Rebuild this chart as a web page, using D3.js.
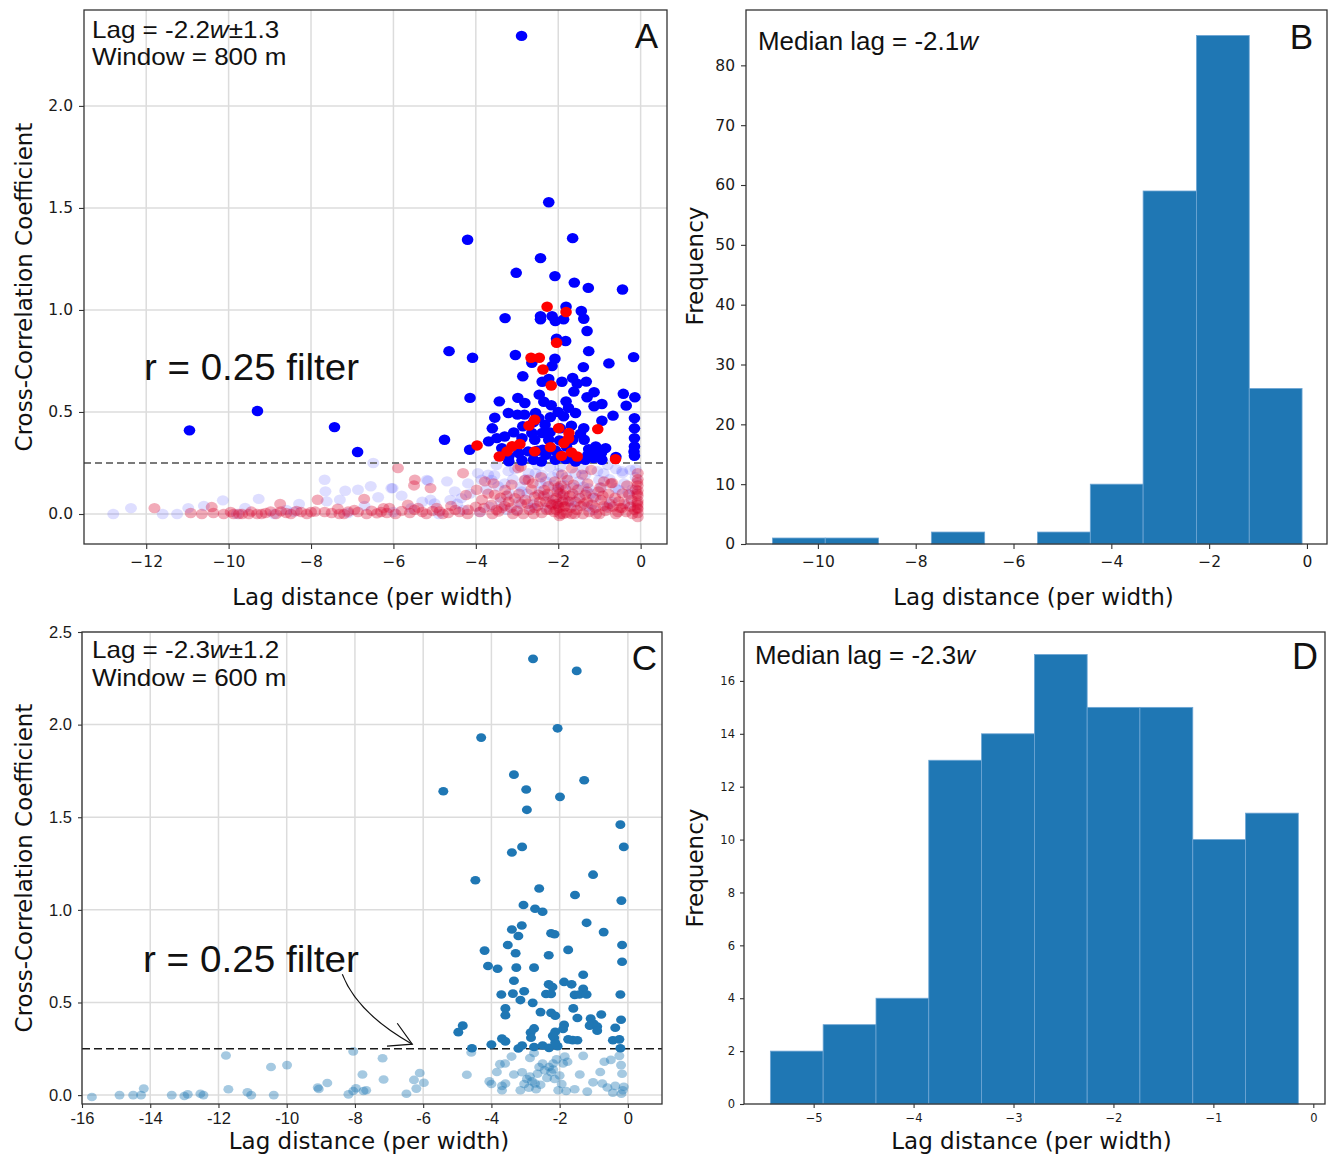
<!DOCTYPE html>
<html>
<head>
<meta charset="utf-8">
<script src="https://cdn.jsdelivr.net/npm/d3@7"></script>
<style>
  body { margin: 0; background: #fff; }
  svg { display: block; }
</style>
</head>
<body>
<svg id="fig" width="1328" height="1155"></svg>
<script>
// ---------------------------------------------------------------
// Panel A: 800 m window, lag vs cross-correlation coefficient
// ---------------------------------------------------------------
const a_blue = [
  [-2.89,2.343],[-10.95,0.41],[-9.3,0.505],[-7.43,0.426],[-6.87,0.304],
  [-2.23,1.528],[-4.2,1.344],[-1.65,1.352],[-2.43,1.254],[-3.02,1.182],[-2.08,1.166],[-1.61,1.134],[-1.27,1.108],[-0.44,1.10],
  [-1.81,1.016],[-2.43,0.97],[-2.43,0.954],[-2.15,0.97],[-2.07,0.946],[-1.87,0.954],[-1.44,0.995],[-1.38,0.957],[-3.29,0.96],[-1.3,0.897],[-2.04,0.859],[-1.82,0.848],
  [-4.65,0.798],[-4.08,0.766],[-3.04,0.779],[-2.64,0.741],[-2.08,0.761],[-2.15,0.725],[-1.26,0.798],[-0.77,0.738],[-0.17,0.769],[-1.39,0.72],
  [-2.86,0.675],[-2.39,0.648],[-2.23,0.662],[-1.91,0.648],[-1.65,0.667],[-1.54,0.639],[-1.32,0.649],[-1.62,0.6],[-2.46,0.585],[-1.13,0.597],[-0.42,0.589],[-0.14,0.572],
  [-4.14,0.569],[-3.43,0.552],[-2.98,0.569],[-2.81,0.544],[-1.81,0.552],[-1.3,0.572],[-1.13,0.528],[-0.94,0.539],[-0.35,0.531],[-2.17,0.533],
  [-3.21,0.495],[-2.99,0.487],[-2.82,0.487],[-2.55,0.495],[-2.47,0.47],[-2.19,0.475],[-1.87,0.479],[-1.58,0.495],[-0.67,0.482],[-3.54,0.472],[-0.94,0.457],
  [-2.86,0.43],[-2.32,0.438],[-1.68,0.433],[-1.38,0.421],[-3.08,0.4],[-2.64,0.397],[-2.39,0.397],[-1.46,0.393],
  [-4.76,0.364],[-3.49,0.372],[-3.69,0.356],[-2.88,0.372],[-2.57,0.364],[-2.23,0.364],[-1.97,0.361],[-1.65,0.364],[-1.37,0.364],[-0.15,0.372],
  [-4.15,0.315],[-3.37,0.323],[-3.2,0.282],[-2.96,0.298],[-2.73,0.307],[-2.38,0.315],[-2.07,0.311],[-1.8,0.331],[-1.26,0.318],[-1.09,0.331],[-0.85,0.323],[-0.15,0.331],[-0.15,0.285],
  [-3.2,0.258],[-2.88,0.262],[-2.6,0.266],[-2.41,0.257],[-2.07,0.266],[-1.82,0.269],[-1.58,0.257],[-1.34,0.266],[-1.14,0.274],[-0.94,0.266],[-1.28,0.29],[-1.05,0.295],
  [-2.3,0.29],[-2.0,0.295],[-1.7,0.28],[-2.5,0.31],[-2.2,0.4],[-1.95,0.42],[-2.6,0.45],[-2.0,0.5],[-1.75,0.52],[-2.35,0.55],[-3.6,0.42],[-3.3,0.38],
  [-0.95,0.3],[-0.6,0.28],[-0.15,0.42],[-0.15,0.47],[-0.16,0.305]
];
const a_red = [
  [-2.27,1.016],[-1.81,0.99],[-2.04,0.839],[-2.66,0.766],[-2.46,0.766],[-2.37,0.708],[-2.17,0.63],[-2.57,0.462],[-2.71,0.433],
  [-1.99,0.421],[-1.04,0.416],[-1.74,0.397],[-1.86,0.348],[-1.75,0.37],[-3.97,0.336],[-2.93,0.343],[-3.12,0.332],[-3.24,0.307],
  [-3.43,0.282],[-2.57,0.307],[-2.19,0.328],[-1.92,0.285],[-1.68,0.302],[-1.54,0.282],[-0.61,0.269]
];
const a_blueWeak = [
  [-12.8,0.0],[-12.37,0.029],[-11.25,0.0],[-10.98,0.029],[-10.14,0.067],[-9.27,0.074],[-8.29,0.049],[-7.67,0.168],[-7.65,0.111],[-7.62,0.062],
  [-7.17,0.114],[-6.86,0.119],[-6.55,0.136],[-6.37,0.082],[-6.49,0.25],[-6.05,0.126],[-6.02,0.127],[-5.19,0.167],[-5.16,0.163],[-5.1,0.07],
  [-5.0,0.052],[-4.62,0.069],[-4.51,0.111],[-4.35,0.078],[-4.19,0.15],[-4.14,0.10],[-3.86,0.168],[-3.7,0.193],[-3.62,0.167],[-3.46,0.136],
  [-3.21,0.21],[-3.19,0.10],[-2.91,0.134],[-2.89,0.111],[-2.72,0.2],[-2.43,0.15],[-2.4,0.193],[-2.24,0.085],[-2.15,0.183],[-1.86,0.142],
  [-1.58,0.2],[-1.39,0.134],[-1.29,0.036],[-1.26,0.127],[-1.01,0.167],[-0.82,0.036],[-0.61,0.127],[-0.53,0.118],[-0.45,0.21],[-0.44,0.2],
  [-0.25,0.216],[-0.12,0.22],[-0.12,0.18],[-3.67,0.036],[-5.57,0.028],[-8.41,0.011],[-9.8,0.0],[-8.9,0.0],[-7.1,0.005],[-6.0,0.01],
  [-4.9,0.0],[-4.3,0.02],[-3.9,0.01],[-3.4,0.06],[-3.0,0.02],[-2.6,0.05],[-2.3,0.03],[-2.0,0.12],[-1.7,0.06],[-1.5,0.16],
  [-1.1,0.08],[-0.9,0.2],[-0.7,0.06],[-0.3,0.1],[-1.95,0.23],[-2.5,0.24],[-3.5,0.24],[-0.8,0.24],[-1.4,0.22],[-2.8,0.17],[-3.1,0.17],[-2.0,0.2],
  [-3.95,0.2],[-3.75,0.12],[-3.55,0.19],[-3.3,0.15],[-3.05,0.22],[-2.95,0.06],[-2.75,0.1],[-2.55,0.2],[-2.45,0.11],[-2.3,0.16],
  [-2.2,0.23],[-2.1,0.14],[-1.9,0.09],[-1.8,0.18],[-1.65,0.13],[-1.5,0.09],[-1.35,0.19],[-1.2,0.1],[-1.05,0.21],[-0.95,0.13],
  [-0.75,0.17],[-0.6,0.22],[-0.4,0.15],[-0.3,0.05],[-0.2,0.12],[-2.65,0.03],[-2.05,0.05],[-1.6,0.04],[-1.15,0.02],[-3.25,0.02],
  [-4.45,0.05],[-4.7,0.16],[-5.3,0.06],[-5.8,0.09],[-6.7,0.04],[-7.3,0.07],[-8.6,0.02],[-9.6,0.03],[-10.6,0.04],[-11.6,0.0]
];
const a_redWeak = [
  [-11.8,0.029],[-10.92,0.005],[-10.65,0.0],[-10.41,0.034],[-10.37,0.005],[-10.12,0.0],[-9.88,0.0],[-9.67,0.0],[-9.51,0.0],[-9.31,0.0],
  [-9.1,0.005],[-8.98,0.013],[-8.75,0.049],[-8.73,0.013],[-8.49,0.0],[-8.24,0.01],[-8.0,0.01],[-7.84,0.07],[-7.67,0.01],[-7.5,0.005],
  [-7.35,0.026],[-7.31,0.0],[-7.1,0.012],[-6.86,0.01],[-6.71,0.074],[-6.53,0.016],[-6.4,0.003],[-6.24,0.029],[-6.16,0.005],[-6.1,0.03],
  [-5.89,0.225],[-5.65,0.046],[-5.5,0.14],[-5.48,0.168],[-5.49,0.021],[-5.3,0.01],[-5.1,0.127],[-5.05,0.015],[-4.88,0.013],[-4.67,0.005],
  [-4.5,0.02],[-4.31,0.2],[-4.24,0.093],[-4.19,0.021],[-4.0,0.036],[-3.98,0.119],[-3.9,0.01],[-3.78,0.16],[-3.62,0.046],[-3.57,0.15],
  [-3.54,0.095],[-3.45,0.012],[-3.37,0.029],[-3.29,0.118],[-3.2,0.06],[-3.13,0.144],[-3.05,0.077],[-3.0,0.015],[-2.97,0.225],[-2.91,0.232],
  [-2.81,0.167],[-2.8,0.07],[-2.72,0.168],[-2.7,0.02],[-2.57,0.085],[-2.56,0.029],[-2.48,0.095],[-2.4,0.005],[-2.34,0.118],[-2.24,0.136],
  [-2.19,0.052],[-2.15,0.046],[-2.1,0.01],[-1.96,0.101],[-1.91,0.193],[-1.87,0.095],[-1.86,0.036],[-1.83,0.038],[-1.8,0.005],[-1.77,0.167],
  [-1.75,0.062],[-1.67,0.224],[-1.63,0.144],[-1.55,0.02],[-1.48,0.077],[-1.42,0.193],[-1.34,0.095],[-1.29,0.15],[-1.25,0.01],[-1.2,0.216],
  [-1.18,0.046],[-1.02,0.111],[-0.96,0.069],[-0.89,0.16],[-0.85,0.015],[-0.72,0.15],[-0.69,0.152],[-0.67,0.036],[-0.53,0.062],[-0.45,0.029],
  [-0.44,0.101],[-0.35,0.01],[-0.28,0.095],[-0.25,0.036],
  [-0.07,0.2],[-0.07,0.17],[-0.07,0.14],[-0.07,0.115],[-0.07,0.09],[-0.07,0.065],[-0.07,0.045],[-0.07,0.025],[-0.07,0.005],[-0.07,-0.015],
  [-0.08,0.155],[-0.08,0.1],[-0.08,0.055],[-0.08,0.03],
  [-4.2,0.0],[-3.8,0.03],[-3.6,0.0],[-3.3,0.04],[-3.1,0.0],[-2.9,0.05],[-2.6,0.0],[-2.5,0.04],[-2.3,0.06],[-2.2,0.02],
  [-2.0,0.04],[-1.95,0.0],[-1.9,0.06],[-1.7,0.03],[-1.6,0.0],[-1.45,0.04],[-1.1,0.03],[-1.0,0.0],[-0.75,0.05],[-0.6,0.0],
  [-0.5,0.03],[-0.2,0.0],[-2.05,0.08],[-2.35,0.09],[-1.65,0.1],[-2.65,0.12],[-3.4,0.08],[-1.3,0.06],[-0.9,0.04],[-2.0,0.13],
  [-1.85,0.07],[-2.05,0.02],[-1.97,-0.01],[-2.03,0.05],
  [-9.95,0.01],[-9.75,0.0],[-9.45,0.012],[-9.2,0.0],[-8.85,0.0],[-8.6,0.005],[-8.35,0.015],[-8.1,0.0],[-7.9,0.012],[-7.2,0.0],
  [-6.95,0.02],[-6.65,0.0],[-6.3,0.01],[-5.95,0.0],[-5.8,0.015],[-5.6,0.005],[-5.4,0.03],[-5.2,0.0],[-4.95,0.03],[-4.8,0.0],
  [-4.6,0.04],[-4.4,0.01],
  [-3.85,0.07],[-3.7,0.1],[-3.5,0.02],[-3.25,0.09],[-3.15,0.03],[-2.95,0.1],[-2.85,0.0],[-2.75,0.05],[-2.62,0.15],[-2.45,0.06],
  [-2.42,0.18],[-2.28,0.02],[-2.25,0.1],[-2.12,0.07],[-2.08,0.16],[-2.02,0.11],[-1.98,0.03],[-1.93,0.14],[-1.88,0.0],[-1.82,0.12],
  [-1.72,0.09],[-1.68,0.0],[-1.58,0.06],[-1.52,0.12],[-1.4,0.0],[-1.38,0.05],[-1.3,0.11],[-1.15,0.08],[-1.08,0.0],[-0.98,0.13],
  [-0.92,0.09],[-0.8,0.03],[-0.78,0.1],[-0.62,0.08],[-0.55,0.01],[-0.4,0.05],[-0.33,0.14],[-0.22,0.07],[-0.15,0.02],[-0.12,0.12]
];

// ---------------------------------------------------------------
// Panel C: 600 m window
// ---------------------------------------------------------------
const c_strong = [
  [-2.78,2.355],[-1.5,2.29],[-2.06,1.98],[-4.3,1.93],[-3.34,1.73],[-1.28,1.70],[-5.41,1.64],[-2.98,1.65],[-1.99,1.61],[-2.96,1.54],
  [-0.22,1.46],[-0.12,1.34],[-3.1,1.34],[-3.4,1.31],[-1.02,1.19],[-4.47,1.16],[-2.6,1.115],[-1.55,1.08],[-0.19,1.05],[-3.06,1.026],
  [-2.72,1.006],[-2.5,0.99],[-1.21,0.93],[-3.11,0.916],[-3.4,0.894],[-0.71,0.88],[-2.25,0.874],[-2.15,0.868],[-3.21,0.859],[-0.17,0.81],
  [-3.52,0.81],[-4.2,0.78],[-1.75,0.784],[-3.29,0.766],[-2.32,0.755],[-0.17,0.72],[-4.1,0.697],[-3.82,0.682],[-3.27,0.688],[-2.75,0.688],
  [-1.31,0.65],[-3.34,0.617],[-1.87,0.611],[-1.65,0.598],[-2.32,0.598],[-2.21,0.584],[-1.31,0.574],[-3.04,0.561],[-3.71,0.543],[-3.37,0.548],
  [-2.4,0.546],[-2.25,0.546],[-1.56,0.541],[-1.42,0.543],[-1.21,0.543],[-0.22,0.543],[-3.15,0.513],[-2.79,0.498],[-3.59,0.468],[-1.6,0.468],
  [-2.56,0.448],[-2.25,0.444],[-3.59,0.431],[-2.13,0.428],[-0.78,0.435],[-1.48,0.416],[-1.09,0.413],[-0.2,0.407],[-1.0,0.385],[-4.84,0.375],
  [-1.87,0.379],[-1.12,0.375],[-0.9,0.37],[-2.75,0.36],[-0.37,0.364],[-1.9,0.357],[-4.97,0.34],[-2.85,0.338],[-2.13,0.342],[-0.9,0.348],
  [-2.84,0.31],[-3.69,0.305],[-3.59,0.29],[-2.16,0.31],[-1.75,0.301],[-1.62,0.297],[-1.48,0.296],[-0.44,0.296],[-0.25,0.301],[-3.1,0.268],
  [-4.0,0.273],[-4.57,0.253],[-3.21,0.252],[-2.75,0.26],[-2.5,0.268],[-2.31,0.255],[-2.06,0.264],[-0.22,0.253],[-2.13,0.283],[-2.2,0.32]
];
const c_weak = [
  [-15.71,-0.01],[-14.9,0.0],[-14.5,0.0],[-14.27,0.0],[-14.19,0.035],[-13.37,0.0],[-13.0,-0.005],[-12.9,0.004],[-12.53,0.007],[-12.44,0.0],
  [-11.78,0.214],[-11.71,0.032],[-11.15,0.015],[-11.04,0.0],[-10.46,0.152],[-10.38,0.0],[-9.99,0.162],[-9.09,0.041],[-9.06,0.033],[-8.81,0.065],
  [-8.19,0.004],[-8.05,0.236],[-8.05,0.022],[-7.97,0.037],[-7.78,0.111],[-7.75,0.022],[-7.67,0.026],[-7.19,0.199],[-7.16,0.084],[-6.49,0.007],
  [-6.27,0.082],[-6.2,0.035],[-6.1,0.119],[-5.98,0.067],[-4.72,0.11],[-4.59,0.23],[-4.06,0.074],[-4.0,0.06],[-3.84,0.125],[-3.75,0.167],
  [-3.69,0.05],[-3.69,0.026],[-3.6,0.171],[-3.59,0.063],[-3.41,0.208],[-3.34,0.111],[-3.15,0.026],[-3.1,0.123],[-3.04,0.06],[-2.96,0.087],
  [-2.9,0.04],[-2.87,0.1],[-2.81,0.074],[-2.75,0.227],[-2.72,0.063],[-2.69,0.032],[-2.65,0.115],[-2.6,0.152],[-2.56,0.056],[-2.5,0.171],
  [-2.44,0.134],[-2.37,0.093],[-2.31,0.152],[-2.25,0.123],[-2.19,0.171],[-2.15,0.087],[-2.09,0.193],[-2.04,0.026],[-2.0,0.106],[-1.94,0.06],
  [-1.9,0.171],[-1.85,0.208],[-1.81,0.022],[-1.77,0.18],[-1.56,0.032],[-1.41,0.111],[-1.31,0.212],[-1.19,0.019],[-1.02,0.069],[-0.81,0.125],
  [-0.75,0.063],[-0.69,0.18],[-0.6,0.041],[-0.5,0.19],[-0.44,0.013],[-0.37,0.05],[-0.25,0.212],[-0.2,0.162],[-0.17,0.115],[-0.15,0.026],
  [-0.12,0.045],[-0.19,0.007],[-2.87,0.2],[-2.19,0.138]
];

// ---------------------------------------------------------------
// Histograms of lag distance (panels B and D)
// ---------------------------------------------------------------
const b_binEdges = [-10.93,-9.85,-8.76,-7.68,-6.59,-5.51,-4.43,-3.35,-2.26,-1.18,-0.10];
const b_counts   = [1,1,0,2,0,2,10,59,85,26];
const d_binEdges = [-5.433,-4.905,-4.376,-3.848,-3.320,-2.791,-2.263,-1.735,-1.206,-0.678,-0.150];
const d_counts   = [2,3,4,13,14,17,15,15,10,11];

// tick values
const a_xTicks = [-12,-10,-8,-6,-4,-2,0];
const a_yTicks = [0,0.5,1.0,1.5,2.0];
const b_xTicks = [-10,-8,-6,-4,-2,0];
const b_yTicks = [0,10,20,30,40,50,60,70,80];
const c_xTicks = [-16,-14,-12,-10,-8,-6,-4,-2,0];
const c_yTicks = [0,0.5,1.0,1.5,2.0,2.5];
const d_xTicks = [-5,-4,-3,-2,-1,0];
const d_yTicks = [0,2,4,6,8,10,12,14,16];

const filterLevel = 0.25;

// ---------------------------------------------------------------
// layout
// ---------------------------------------------------------------
const layout = {
  A: {x0: 84,  x1: 667,  y0: 10,  y1: 544,  xd: [-13.51, 0.64],  yd: [-0.147, 2.47]},
  B: {x0: 746, x1: 1327, y0: 10,  y1: 544,  xd: [-11.47, 0.41],  yd: [0, 89.25]},
  C: {x0: 82,  x1: 662,  y0: 632, y1: 1104, xd: [-16, 1],        yd: [-0.048, 2.5]},
  D: {x0: 744, x1: 1325, y0: 632, y1: 1104, xd: [-5.697, 0.117], yd: [0, 17.85]}
};

const LABEL_FONT = "'DejaVu Sans', sans-serif";
const NOTE_FONT = "'Liberation Sans', Arial, sans-serif";
const BAR_BLUE = "#1f77b4";

const svg = d3.select("#fig");
const defs = svg.append("defs");

function scales(p) {
  return {
    x: d3.scaleLinear().domain(p.xd).range([p.x0, p.x1]),
    y: d3.scaleLinear().domain(p.yd).range([p.y1, p.y0])
  };
}

function clipFor(id, p) {
  defs.append("clipPath").attr("id", id)
    .append("rect").attr("x", p.x0).attr("y", p.y0)
    .attr("width", p.x1 - p.x0).attr("height", p.y1 - p.y0);
  return `url(#${id})`;
}

function grid(g, p, s, xt, yt) {
  const gg = g.append("g").attr("stroke", "#dcdcdc").attr("stroke-width", 1.5);
  gg.selectAll("line.v").data(xt).join("line").attr("class", "v")
    .attr("x1", d => s.x(d)).attr("x2", d => s.x(d)).attr("y1", p.y0).attr("y2", p.y1);
  gg.selectAll("line.h").data(yt).join("line").attr("class", "h")
    .attr("y1", d => s.y(d)).attr("y2", d => s.y(d)).attr("x1", p.x0).attr("x2", p.x1);
}

function axes(g, p, s, o) {
  const ax = g.append("g").attr("transform", `translate(0,${p.y1})`)
    .call(d3.axisBottom(s.x).tickValues(o.xTicks).tickFormat(o.xFmt)
      .tickSize(o.tick).tickPadding(o.xPad));
  const ay = g.append("g").attr("transform", `translate(${p.x0},0)`)
    .call(d3.axisLeft(s.y).tickValues(o.yTicks).tickFormat(o.yFmt)
      .tickSize(o.tick).tickPadding(o.yPad));
  [ax, ay].forEach(a => {
    a.select(".domain").remove();
    a.selectAll(".tick line").attr("stroke", "#333").attr("stroke-width", 1.1);
    a.selectAll("text").attr("font-family", o.font).attr("font-size", o.size).attr("fill", "#1a1a1a");
  });
}

function frame(g, p) {
  g.append("rect").attr("x", p.x0).attr("y", p.y0)
    .attr("width", p.x1 - p.x0).attr("height", p.y1 - p.y0)
    .attr("fill", "none").attr("stroke", "#333").attr("stroke-width", 1.3);
}

function axisTitles(p, xLabel, yLabel, xBase, yPos, yMid) {
  svg.append("text").attr("x", (p.x0 + p.x1) / 2 - 3).attr("y", xBase)
    .attr("text-anchor", "middle").attr("font-family", LABEL_FONT).attr("font-size", 23)
    .attr("fill", "#111").text(xLabel);
  svg.append("text").attr("transform", `translate(${yPos},${yMid}) rotate(-90)`)
    .attr("text-anchor", "middle").attr("font-family", LABEL_FONT).attr("font-size", 23)
    .attr("fill", "#111").text(yLabel);
}

// Width of a run of parts in the annotation font.
function runWidth(parts, size) {
  const t = svg.append("text").attr("font-family", NOTE_FONT).attr("font-size", size);
  parts.forEach(pt => t.append("tspan").attr("font-style", pt.i ? "italic" : "normal").text(pt.t));
  const w = t.node().getComputedTextLength();
  t.remove();
  return w;
}

// Annotation block: one text element holding one or more lines of runs
// (some italic), squeezed horizontally toward the given line widths.
function note(lines, x, y, size, lineGap, widths, anchor) {
  let k = 1;
  if (widths) {
    const ratios = lines.map((ln, i) => widths[i] / runWidth(ln, size));
    k = d3.mean(ratios);
  }
  const t = svg.append("text").attr("font-family", NOTE_FONT).attr("font-size", size)
    .attr("fill", "#111").attr("text-anchor", anchor || "start")
    .attr("transform", `translate(${x},${y}) scale(${k},1)`);
  lines.forEach((ln, i) => {
    ln.forEach((pt, j) => {
      const sp = t.append("tspan").attr("font-style", pt.i ? "italic" : "normal").text(pt.t);
      if (j === 0) sp.attr("x", 0).attr("y", i * lineGap);
    });
  });
  return t;
}

function dots(g, data, s, rx, ry, fill, opacity) {
  g.append("g").selectAll("ellipse").data(data).join("ellipse")
    .attr("cx", d => s.x(d[0])).attr("cy", d => s.y(d[1]))
    .attr("rx", rx).attr("ry", ry)
    .attr("fill", fill).attr("fill-opacity", opacity);
}

function bars(g, edges, counts, s) {
  const bins = counts.map((c, i) => ({x0: edges[i], x1: edges[i + 1], n: c})).filter(b => b.n > 0);
  g.append("g").selectAll("rect").data(bins).join("rect")
    .attr("x", b => s.x(b.x0)).attr("width", b => s.x(b.x1) - s.x(b.x0))
    .attr("y", b => s.y(b.n)).attr("height", b => s.y(0) - s.y(b.n))
    .attr("fill", BAR_BLUE).attr("stroke", "#6fa6d4").attr("stroke-width", 0.8);
}

const minusInt = d3.format("d");
const oneDec = d3.format(".1f");

// ---------------- Panel A ----------------
{
  const p = layout.A, s = scales(p);
  const g = svg.append("g");
  grid(g, p, s, a_xTicks, a_yTicks);
  const body = g.append("g").attr("clip-path", clipFor("clipA", p));
  dots(body, a_blueWeak, s, 6, 5.2, "#0000ff", 0.13);
  dots(body, a_redWeak, s, 6, 5.2, "#d8002c", 0.33);
  body.append("line").attr("x1", p.x0).attr("x2", p.x1)
    .attr("y1", s.y(filterLevel)).attr("y2", s.y(filterLevel))
    .attr("stroke", "#7a7a7a").attr("stroke-width", 2.2).attr("stroke-dasharray", "7,4");
  dots(body, a_blue, s, 5.8, 5.2, "#0000ff", 1);
  dots(body, a_red, s, 5.8, 5.2, "#ff0000", 1);
  frame(g, p);
  axes(g, p, s, {xTicks: a_xTicks, yTicks: a_yTicks, xFmt: minusInt, yFmt: oneDec,
    tick: 5, xPad: 7, yPad: 6, font: LABEL_FONT, size: 15.5});
  axisTitles(p, "Lag distance (per width)", "Cross-Correlation Coefficient", 605, 32, 287);
  note([[{t: "Lag = -2.2"}, {t: "w", i: true}, {t: "±1.3"}], [{t: "Window = 800 m"}]],
    92, 38, 24, 27, [184, 198]);
  note([[{t: "A"}]], 658, 48, 35, 0, null, "end");
  note([[{t: "r = 0.25 filter"}]], 144, 380, 37, 0, [215]);
}

// ---------------- Panel B ----------------
{
  const p = layout.B, s = scales(p);
  const g = svg.append("g");
  bars(g, b_binEdges, b_counts, s);
  frame(g, p);
  axes(g, p, s, {xTicks: b_xTicks, yTicks: b_yTicks, xFmt: minusInt, yFmt: minusInt,
    tick: 5, xPad: 7, yPad: 6, font: LABEL_FONT, size: 15.5});
  axisTitles(p, "Lag distance (per width)", "Frequency", 605, 703, 266);
  note([[{t: "Median lag = -2.1"}, {t: "w", i: true}]], 758, 50, 25, 0, [220]);
  note([[{t: "B"}]], 1313, 49, 35, 0, null, "end");
}

// ---------------- Panel C ----------------
{
  const p = layout.C, s = scales(p);
  const g = svg.append("g");
  grid(g, p, s, c_xTicks, c_yTicks);
  const body = g.append("g").attr("clip-path", clipFor("clipC", p));
  dots(body, c_weak, s, 5, 4.3, BAR_BLUE, 0.4);
  body.append("line").attr("x1", p.x0).attr("x2", p.x1)
    .attr("y1", s.y(filterLevel)).attr("y2", s.y(filterLevel))
    .attr("stroke", "#1a1a1a").attr("stroke-width", 1.6).attr("stroke-dasharray", "8,4");
  dots(body, c_strong, s, 5, 4.3, BAR_BLUE, 1);
  frame(g, p);
  axes(g, p, s, {xTicks: c_xTicks, yTicks: c_yTicks, xFmt: d => String(d), yFmt: oneDec,
    tick: 4, xPad: 4, yPad: 6, font: NOTE_FONT, size: 16.5});
  axisTitles(p, "Lag distance (per width)", "Cross-Correlation Coefficient", 1149, 32, 868);
  note([[{t: "Lag = -2.3"}, {t: "w", i: true}, {t: "±1.2"}], [{t: "Window = 600 m"}]],
    92, 658, 24, 28, [184, 198]);
  note([[{t: "C"}]], 657, 670, 35, 0, null, "end");
  note([[{t: "r = 0.25 filter"}]], 143, 972, 37, 0, [216]);

  // curved arrow from the label down to the filter line
  const arrowPath = d3.path();
  arrowPath.moveTo(s.x(-8.37), s.y(0.652));
  arrowPath.quadraticCurveTo(s.x(-7.93), s.y(0.442), s.x(-6.32), s.y(0.275));
  svg.append("path").attr("d", arrowPath.toString())
    .attr("fill", "none").attr("stroke", "#111").attr("stroke-width", 1.2);
  const head = d3.path();
  head.moveTo(s.x(-6.76), s.y(0.388));
  head.lineTo(s.x(-6.32), s.y(0.275));
  head.lineTo(s.x(-7.06), s.y(0.264));
  svg.append("path").attr("d", head.toString())
    .attr("fill", "none").attr("stroke", "#111").attr("stroke-width", 1.2);
}

// ---------------- Panel D ----------------
{
  const p = layout.D, s = scales(p);
  const g = svg.append("g");
  bars(g, d_binEdges, d_counts, s);
  frame(g, p);
  axes(g, p, s, {xTicks: d_xTicks, yTicks: d_yTicks, xFmt: minusInt, yFmt: minusInt,
    tick: 4, xPad: 6, yPad: 5, font: LABEL_FONT, size: 11.5});
  axisTitles(p, "Lag distance (per width)", "Frequency", 1149, 703, 868);
  note([[{t: "Median lag = -2.3"}, {t: "w", i: true}]], 755, 664, 25, 0, [220]);
  note([[{t: "D"}]], 1318, 669, 36, 0, null, "end");
}
</script>
</body>
</html>
